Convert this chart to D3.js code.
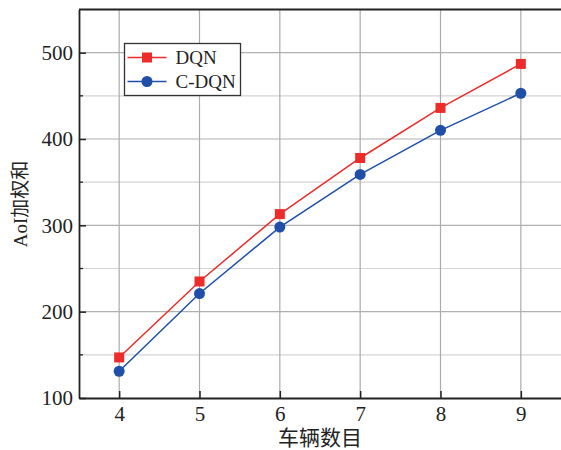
<!DOCTYPE html>
<html>
<head>
<meta charset="utf-8">
<script src="https://cdn.jsdelivr.net/npm/d3@7"></script>
<style>
  body { margin: 0; background: #fff; }
  svg text { font-family: "Liberation Serif", "Times New Roman", "Noto Sans CJK SC", serif; fill: #222; }
</style>
</head>
<body>
<div id="chart"></div>
<script>
/** --- DATA --- */
const vehicles = [4, 5, 6, 7, 8, 9];
const dqn = [147, 235, 313, 378, 436, 487];
const cdqn = [131, 221, 298, 359, 410, 453];
const seriesNames = ['DQN', 'C-DQN'];
const yTicks = [100, 200, 300, 400, 500];
const yMinor = [150, 250, 350, 450, 550];
const xTitle = '车辆数目';
const yTitle = 'AoI加权和';

/** --- DIMENSIONS --- */
const width = 561;
const height = 450;
const margin = { top: 9.5, right: 0, bottom: 52, left: 79 };

const svg = d3.select('#chart')
  .append('svg')
  .attr('width', width)
  .attr('height', height);

/** --- SCALES --- */
const xScale = d3.scaleLinear()
  .domain([3.5, 9.5])
  .range([margin.left, width - margin.right]);

const yScale = d3.scaleLinear()
  .domain([100, 550])
  .range([height - margin.bottom, margin.top]);

// grid
svg.append('g')
  .selectAll('line.minor')
  .data(yMinor)
  .join('line')
  .attr('x1', margin.left).attr('x2', width)
  .attr('y1', d => yScale(d)).attr('y2', d => yScale(d))
  .attr('stroke', '#d4d4d4')
  .attr('stroke-width', 1.2);

svg.append('g')
  .selectAll('line.major')
  .data(yTicks.slice(1))
  .join('line')
  .attr('x1', margin.left).attr('x2', width)
  .attr('y1', d => yScale(d)).attr('y2', d => yScale(d))
  .attr('stroke', '#b0b0b0')
  .attr('stroke-width', 1.2);

svg.append('g')
  .selectAll('line')
  .data(vehicles)
  .join('line')
  .attr('x1', d => xScale(d)).attr('x2', d => xScale(d))
  .attr('y1', margin.top).attr('y2', yScale(100))
  .attr('stroke', '#ababab')
  .attr('stroke-width', 1.2);

/** --- AXES --- */
const xAxis = d3.axisBottom(xScale)
  .tickValues(vehicles)
  .tickFormat(d3.format('d'))
  .tickSizeInner(-7)
  .tickSizeOuter(0)
  .tickPadding(8);

const gx = svg.append('g')
  .attr('transform', `translate(0,${yScale(100)})`)
  .call(xAxis);

const yAxis = d3.axisLeft(yScale)
  .tickValues(yTicks)
  .tickFormat(d3.format('d'))
  .tickSizeInner(-7)
  .tickSizeOuter(0)
  .tickPadding(6);

const gy = svg.append('g')
  .attr('transform', `translate(${margin.left},0)`)
  .call(yAxis);

svg.append('g')
  .selectAll('line')
  .data(yMinor.slice(0, 4))
  .join('line')
  .attr('x1', margin.left).attr('x2', margin.left + 4)
  .attr('y1', d => yScale(d)).attr('y2', d => yScale(d))
  .attr('stroke', '#222')
  .attr('stroke-width', 1.3);

[gx, gy].forEach(g => {
  g.attr('font-size', 21);
  g.select('.domain').attr('stroke', '#222').attr('stroke-width', 1.8);
  g.selectAll('.tick line').attr('stroke', '#222').attr('stroke-width', 1.5);
  g.selectAll('.tick text')
    .attr('font-size', 21)
    .style('font-family', '"Liberation Serif", serif')
    .attr('fill', '#222');
});

// top frame
svg.append('line')
  .attr('x1', margin.left).attr('x2', width)
  .attr('y1', margin.top).attr('y2', margin.top)
  .attr('stroke', '#222')
  .attr('stroke-width', 1.8);

svg.append('text')
  .attr('x', 320)
  .attr('y', 445)
  .attr('text-anchor', 'middle')
  .attr('font-size', 21)
  .text(xTitle);

svg.append('text')
  .attr('transform', `translate(27,204) rotate(-90)`)
  .attr('text-anchor', 'middle')
  .attr('font-size', 19)
  .text(yTitle);

/** --- SERIES --- */
const colors = ['#ee2b2b', '#1f4fa8'];
const line = d3.line()
  .x((d, i) => xScale(vehicles[i]))
  .y(d => yScale(d));

[dqn, cdqn].forEach((values, s) => {
  svg.append('path')
    .datum(values)
    .attr('fill', 'none')
    .attr('stroke', colors[s])
    .attr('stroke-width', 1.5)
    .attr('d', line);

  if (s === 0) {
    svg.append('g')
      .selectAll('rect')
      .data(values)
      .join('rect')
      .attr('x', (d, i) => xScale(vehicles[i]) - 5)
      .attr('y', d => yScale(d) - 5)
      .attr('width', 10)
      .attr('height', 10)
      .attr('fill', colors[s]);
  } else {
    svg.append('g')
      .selectAll('circle')
      .data(values)
      .join('circle')
      .attr('cx', (d, i) => xScale(vehicles[i]))
      .attr('cy', d => yScale(d))
      .attr('r', 5.5)
      .attr('fill', colors[s]);
  }
});

/** --- LEGEND --- */
const legend = svg.append('g').attr('transform', 'translate(124.5,43.5)');
legend.append('rect')
  .attr('width', 116)
  .attr('height', 52)
  .attr('fill', '#fff')
  .attr('stroke', '#333')
  .attr('stroke-width', 1.3);

seriesNames.forEach((name, i) => {
  const y = 14 + i * 24;
  legend.append('line')
    .attr('x1', 3).attr('x2', 42)
    .attr('y1', y).attr('y2', y)
    .attr('stroke', colors[i])
    .attr('stroke-width', 1.5);
  if (i === 0) {
    legend.append('rect')
      .attr('x', 22.5 - 5).attr('y', y - 5)
      .attr('width', 10).attr('height', 10)
      .attr('fill', colors[i]);
  } else {
    legend.append('circle')
      .attr('cx', 22.5).attr('cy', y)
      .attr('r', 5.5)
      .attr('fill', colors[i]);
  }
  legend.append('text')
    .attr('x', 51)
    .attr('y', y + 6)
    .attr('font-size', 19)
    .text(name);
});
</script>
</body>
</html>
